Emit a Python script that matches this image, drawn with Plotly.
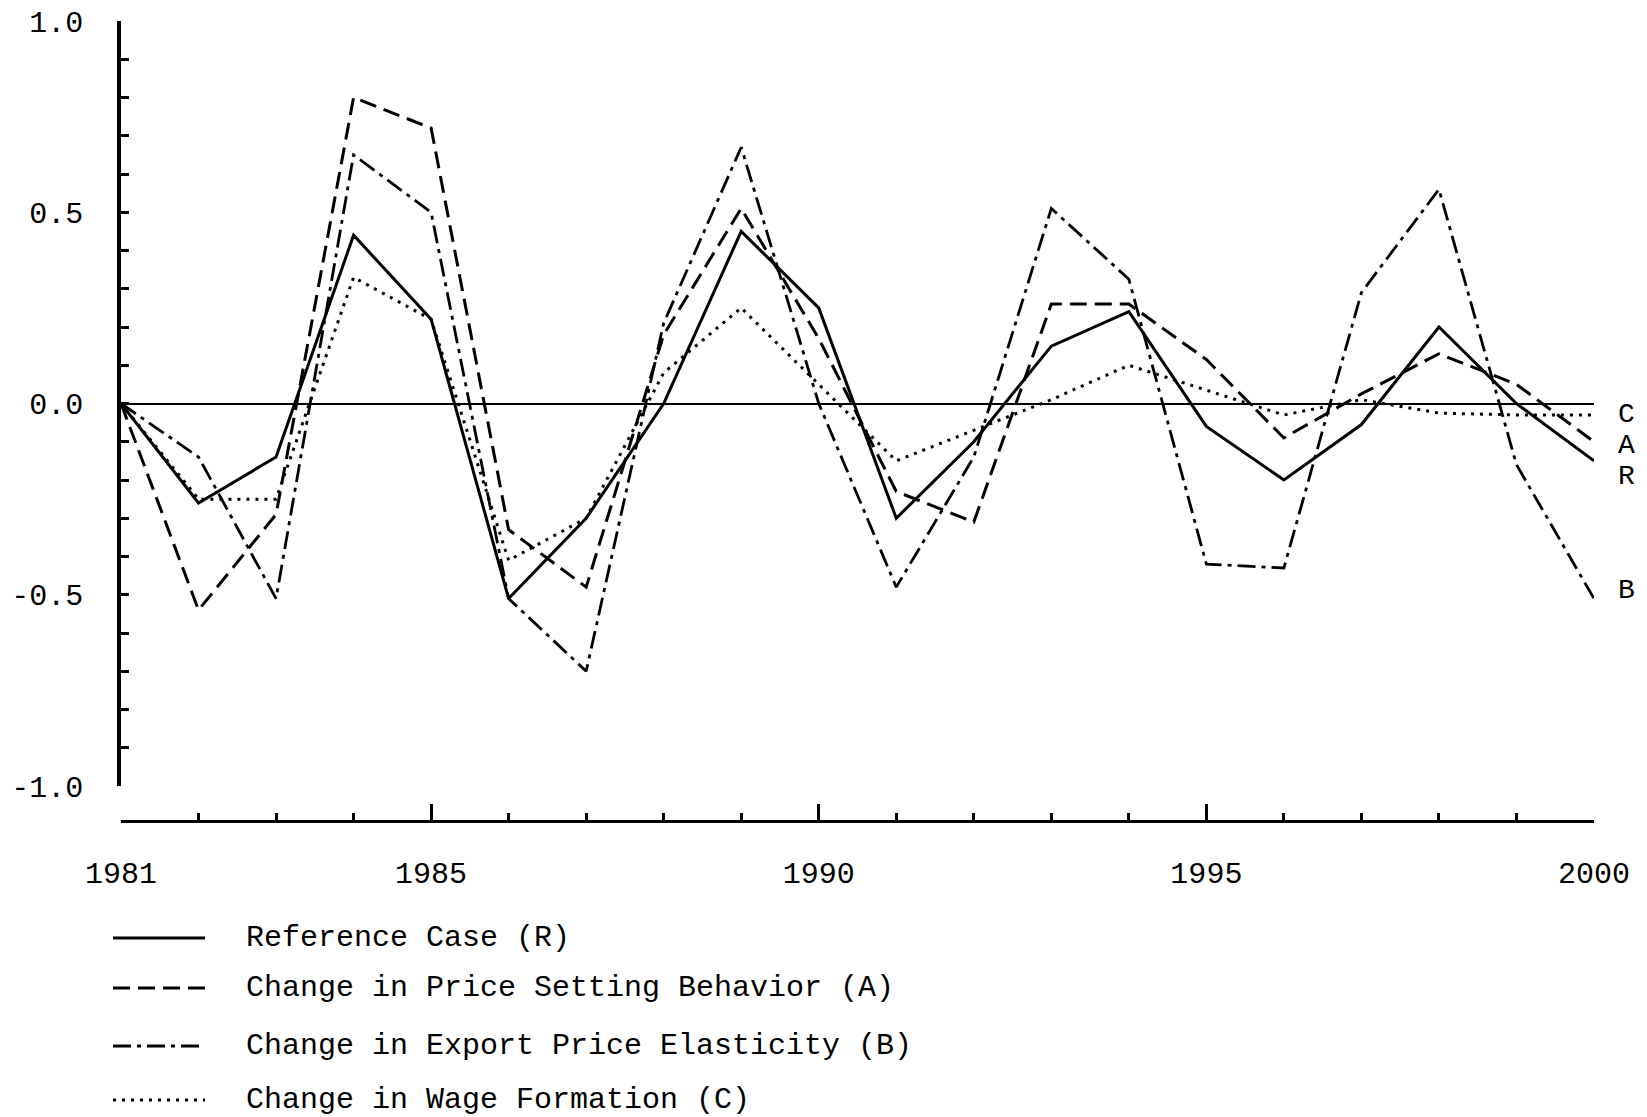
import plotly.graph_objects as go

years = list(range(1981, 2001))
ref_case = [0.0, -0.26, -0.14, 0.44, 0.22, -0.51, -0.30, 0.0, 0.45, 0.25,
            -0.30, -0.10, 0.15, 0.24, -0.06, -0.20, -0.055, 0.20, 0.0, -0.15]
price_setting = [0.0, -0.54, -0.29, 0.80, 0.72, -0.33, -0.48, 0.18, 0.51, 0.17,
                 -0.23, -0.31, 0.26, 0.26, 0.115, -0.09, 0.025, 0.13, 0.05, -0.10]
export_elast = [0.0, -0.14, -0.51, 0.65, 0.50, -0.51, -0.70, 0.21, 0.67, 0.0,
                -0.48, -0.14, 0.51, 0.325, -0.42, -0.43, 0.29, 0.56, -0.16, -0.51]
wage_form = [0.0, -0.25, -0.25, 0.33, 0.22, -0.41, -0.30, 0.08, 0.25, 0.05,
             -0.15, -0.07, 0.01, 0.10, 0.035, -0.03, 0.01, -0.025, -0.03, -0.03]

legend_names = ["Reference Case (R)", "Change in Price Setting Behavior (A)",
                "Change in Export Price Elasticity (B)", "Change in Wage Formation (C)"]
end_letters = ["C", "A", "R", "B"]
end_letter_y = [-0.03, -0.11, -0.19, -0.49]

ytick_vals = [1.0, 0.5, 0.0, -0.5, -1.0]
ytick_text = ["1.0", "0.5", "0.0", "-0.5", "-1.0"]
xtick_vals = [1981, 1985, 1990, 1995, 2000]

FONT = "Liberation Mono, Courier New, monospace"
series = [
    (ref_case, "solid", 3),
    (price_setting, "17px,8px", 3),
    (export_elast, "18px,6px,4px,6px", 2.8),
    (wage_form, "3px,6px", 3),
]

fig = go.Figure()
for (vals, dash, w), name in zip(series, legend_names):
    fig.add_trace(go.Scatter(x=years, y=vals, mode="lines", name=name,
                             line=dict(color="black", width=w, dash=dash)))

# page geometry (pixels) for the hand-made legend
L, R, T, B = 121, 53, 21, 296
W, H = 1647 - L - R, 1117 - T - B
def px(x): return (x - L) / W
def py(y): return (1117 - B - y) / H

row_y = [938, 988, 1046, 1100]
for (vals, dash, w), name, ry in zip(series, legend_names, row_y):
    fig.add_shape(type="line", xref="paper", yref="paper",
                  x0=px(113), x1=px(205), y0=py(ry), y1=py(ry),
                  line=dict(color="black", width=w, dash=dash))
    fig.add_annotation(xref="paper", yref="paper", x=px(244), y=py(ry),
                       text=name, showarrow=False, xanchor="left", yanchor="middle",
                       font=dict(family=FONT, size=30, color="black"))

for letter, ly in zip(end_letters, end_letter_y):
    fig.add_annotation(x=2000, y=ly, text=letter, showarrow=False,
                       xanchor="left", yanchor="middle", xshift=22,
                       font=dict(family=FONT, size=28, color="black"))

fig.update_layout(
    width=1647, height=1117,
    margin=dict(l=L, r=R, t=T, b=B),
    paper_bgcolor="white", plot_bgcolor="white",
    showlegend=False,
    font=dict(family=FONT, size=30, color="black"),
    xaxis=dict(range=[1981, 2000], anchor="free", position=0, automargin=False,
               tickvals=xtick_vals, ticks="inside", ticklen=16, tickwidth=3,
               tickcolor="black", showline=True, linecolor="black", linewidth=3,
               showgrid=False, zeroline=False, ticklabelstandoff=24,
               minor=dict(dtick=1, tick0=1981, ticks="inside", ticklen=7,
                          tickwidth=3, tickcolor="black", showgrid=False)),
    yaxis=dict(range=[-1.0, 1.0], domain=[35 / H, 1], automargin=False,
               tickvals=ytick_vals, ticktext=ytick_text, ticks="inside",
               ticklen=8, tickwidth=3, tickcolor="black",
               showline=True, linecolor="black", linewidth=3.5, showgrid=False,
               zeroline=True, zerolinecolor="black", zerolinewidth=2,
               ticklabelstandoff=28,
               minor=dict(dtick=0.1, tick0=0, ticks="inside", ticklen=8,
                          tickwidth=3, tickcolor="black", showgrid=False)),
)

fig.write_html("out.html", config={"displayModeBar": False},
               post_script="document.body.style.margin='0';")
